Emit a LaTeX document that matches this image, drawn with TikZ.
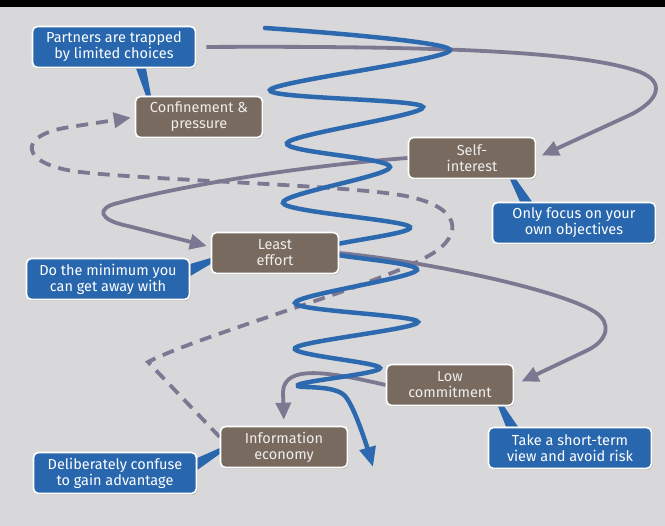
\documentclass[tikz,border=0pt]{standalone}
\usepackage{fontspec}
\setmainfont{Fira Sans}
\usepackage{tikz}
\usetikzlibrary{arrows.meta, positioning, calc, shadows, backgrounds}

\definecolor{paper}{HTML}{D8D8DA}
\definecolor{boxblue}{HTML}{2866AD}
\definecolor{boxbrown}{HTML}{786A5F}
\definecolor{flowgray}{HTML}{7D7891}
\definecolor{coilblue}{HTML}{2D69AF}

\tikzset{
  tag/.style = {draw = white, line width = 1.6pt, rounded corners = 5pt, text = white, align = center,
    font = \fontsize{14.5}{16}\selectfont, inner sep = 2pt, minimum height = 41pt,
    drop shadow = {shadow xshift = 1pt, shadow yshift = -1.5pt, opacity = 0.35}},
  bluetag/.style = {tag, fill = boxblue, minimum width = 163pt},
  browntag/.style = {tag, fill = boxbrown, minimum width = 127pt, text = white!88!boxbrown},
  flow/.style = {draw = flowgray, line width = 3.8pt, -{Triangle[length = 17pt, width = 15pt]}},
  dashflow/.style = {flow, dash pattern = on 12pt off 8pt},
  coil/.style = {draw = coilblue, line width = 4.5pt, line cap = round, -{Triangle[length = 20pt, width = 16pt]}},
  pointer/.style = {fill = boxblue}
}

\begin{document}
\begin{tikzpicture}[x = 1pt, y = -1pt]
\useasboundingbox (0, 0) rectangle (665, 526);
\node at (114, 47) (trapped) [bluetag] {Partners are trapped\\by limited choices};
\node at (199, 117) (confine) [browntag] {Confinement \&\\pressure};
\node at (472, 158) (self) [browntag] {Self-\\interest};
\node at (574, 223) (focus) [bluetag] {Only focus on your\\own objectives};
\node at (275, 253) (least) [browntag] {Least\\effort};
\node at (108, 279) (minimum) [bluetag] {Do the minimum you\\can get away with};
\node at (450, 385) (low) [browntag] {Low\\commitment};
\node at (570, 448) (shortterm) [bluetag] {Take a short-term\\view and avoid risk};
\node at (284, 447) (info) [browntag] {Information\\economy};
\node at (115, 473) (confuse) [bluetag] {Deliberately confuse\\to gain advantage};
\begin{scope}[on background layer]
\fill[paper] (-3, -3) rectangle (668, 529);
\fill[black] (-3, -3) rectangle (668, 7);
\draw[flow, shorten <= 10pt, shorten >= 6pt] (trapped.east) .. controls (420, 46) and (580, 50) .. (640, 72) .. controls (665, 82) and (660, 100) .. (630, 115) -- (self.east);
\draw[flow, shorten >= 4pt] (self.west) .. controls (300, 166) and (180, 186) .. (118, 203) .. controls (96, 208) and (98, 220) .. (128, 226) -- ([yshift = 6pt]least.west);
\draw[flow, shorten >= 8pt] (least.east) .. controls (430, 262) and (560, 290) .. (595, 312) .. controls (612, 323) and (608, 340) .. (588, 350) -- (low.east);
\draw[flow, shorten >= 6pt] (low.west) .. controls (330, 372) and (284, 364) .. (283, 392) -- (info.north);
\draw[dashflow, shorten >= 4pt] ([yshift = 10pt]info.west) -- (148, 362) .. controls (200, 335) and (380, 285) .. (430, 255) .. controls (465, 235) and (462, 205) .. (400, 195) .. controls (340, 185) and (150, 180) .. (80, 172) .. controls (20, 165) and (15, 135) .. (70, 127) -- (confine.west);
\draw[coil] plot[smooth, tension = 0.55] coordinates {(265, 28) (450, 50) (270, 90) (423, 107) (287, 143) (390, 167) (283, 203) (410, 227) (320, 250) (417, 270) (295, 303) (418, 322) (295, 348) (380, 368) (298, 385) (345, 396) (373, 467)};
\fill[pointer] ([xshift = 22pt]trapped.south) -- ([xshift = 32pt]trapped.south) -- ([xshift = -48pt]confine.north) -- ([xshift = -53pt]confine.north) -- cycle;
\fill[pointer] ([xshift = 38pt]self.south) -- ([xshift = 44pt]self.south) -- ([xshift = -42pt]focus.north) -- ([xshift = -54pt]focus.north) -- cycle;
\fill[pointer] ([yshift = -5pt]least.west) -- ([yshift = -11pt]least.west) -- ([yshift = 3pt]minimum.east) -- ([yshift = 15pt]minimum.east) -- cycle;
\fill[pointer] ([xshift = 48pt]low.south) -- ([xshift = 54pt]low.south) -- ([xshift = -52pt]shortterm.north) -- ([xshift = -64pt]shortterm.north) -- cycle;
\fill[pointer] ([yshift = -1pt]info.west) -- ([yshift = -7pt]info.west) -- ([yshift = 3pt]confuse.east) -- ([yshift = 15pt]confuse.east) -- cycle;
\end{scope}
\end{tikzpicture}
\end{document}
